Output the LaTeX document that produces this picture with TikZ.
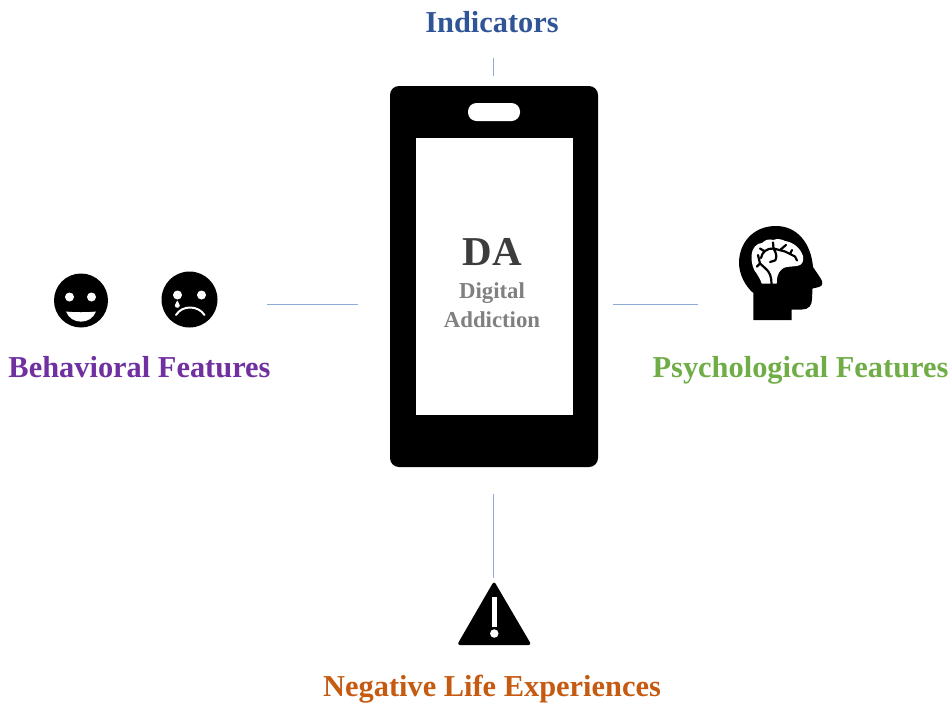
\documentclass[tikz,border=0pt]{standalone}
\usepackage{fontspec}
\setmainfont{Liberation Serif}
\definecolor{linkblue}{HTML}{8EAADB}
\definecolor{indigoblue}{HTML}{2F5597}
\definecolor{behavpurple}{HTML}{7030A0}
\definecolor{psychgreen}{HTML}{70AD47}
\definecolor{negorange}{HTML}{C55A11}

\begin{document}
\begin{tikzpicture}[x=1pt,y=-1pt,
    title/.style={font=\fontsize{30.4}{33}\selectfont\bfseries,inner sep=0pt,anchor=base},
    inphone/.style={font=\fontsize{22.8}{26}\selectfont\bfseries,text=black!50,inner sep=0pt,anchor=base},
    link/.style={draw=linkblue,line width=1.6pt},
    blackface/.style={circle,fill=black,inner sep=0pt,minimum size=#1},
    whitedot/.style={circle,fill=white,inner sep=0pt,minimum size=#1}]
  \useasboundingbox (0,0) rectangle (952,702);

  % phone
  \node[fill=black,rounded corners=9pt,minimum width=208pt,minimum height=381pt,inner sep=0pt] (phone) at (494,276.5) {};
  \node[fill=white,minimum width=157pt,minimum height=277pt,inner sep=0pt] (screen) at (494.5,276.5) {};
  \node[fill=white,rounded corners=8.5pt,minimum width=52pt,minimum height=18pt,inner sep=0pt] (speaker) at (494,112) {};
  \node[font=\fontsize{41}{44}\selectfont\bfseries,text=black!76,inner sep=0pt,anchor=base] (da) at (492,265.7) {DA};
  \node[inphone] (digital) at (492,298.3) {Digital};
  \node[inphone] (addiction) at (492,327.7) {Addiction};

  % labels
  \node[title,text=indigoblue] (indicators) at (492,32) {Indicators};
  \node[title,text=behavpurple] (behavioral) at (139.5,377.5) {Behavioral Features};
  \node[title,text=psychgreen] (psychological) at (800.5,377.5) {Psychological Features};
  \node[title,text=negorange] (negative) at (492,696) {Negative Life Experiences};

  % links
  \coordinate (topa) at (493.5,58);
  \coordinate (topb) at (493.5,76);
  \coordinate (lefta) at (267,304.5);
  \coordinate (leftb) at (358,304.5);
  \coordinate (righta) at (613,304.5);
  \coordinate (rightb) at (698,304.5);
  \coordinate (bota) at (493.5,494);
  \coordinate (botb) at (493.5,578);
  \draw[link] (topa) -- (topb);
  \draw[link] (lefta) -- (leftb);
  \draw[link] (righta) -- (rightb);
  \draw[link] (bota) -- (botb);

  % happy face
  \node[blackface=54pt] (happy) at (81,300.5) {};
  \node[whitedot=9pt] (happyl) at (69.5,297) {};
  \node[whitedot=9pt] (happyr) at (91.5,297) {};
  \fill[white] (66,311.5) .. controls (71,325) and (91,325) .. (96,311.5) .. controls (88,312.5) and (74,312.5) .. (66,311.5);

  % sad face
  \node[blackface=56pt] (sad) at (189.5,299.5) {};
  \node[whitedot=9pt] (sadl) at (177.5,295) {};
  \node[whitedot=9pt] (sadr) at (201.5,295) {};
  \fill[white] (177.3,300.5) .. controls (178,302.5) and (179.8,304) .. (179.8,305.5)
    .. controls (179.8,308.5) and (174.8,308.5) .. (174.8,305.5)
    .. controls (174.8,304) and (176.6,302.5) .. (177.3,300.5);
  \draw[white,line width=2pt,line cap=round] (176,315) .. controls (182,305) and (198,305) .. (204.5,315);

  % head
  \fill[black] (753.3,320) -- (791.7,320) -- (791.7,309.5) -- (802,309.5)
    .. controls (809,309.5) and (812,305) .. (812,299) -- (812.5,288.5) -- (819,287)
    .. controls (823,286) and (823,282) .. (821,279) -- (813,267)
    .. controls (811,243) and (797,226) .. (776,226)
    .. controls (753,226) and (739,243) .. (739,263)
    .. controls (739,274) and (745,286) .. (753.3,293) -- cycle;
  \fill[white] (761.7,283.5) .. controls (760,279) and (759,277) .. (757,274)
    .. controls (753,270) and (751,262) .. (751.5,255)
    .. controls (752,248) and (757,243) .. (762,243)
    .. controls (766,239) and (770,239) .. (773,240)
    .. controls (777,238.5) and (782,239) .. (785,241)
    .. controls (792,242) and (800,247) .. (803,256)
    .. controls (804,262) and (802,265) .. (797,266)
    .. controls (790,267) and (784,266) .. (781,270)
    .. controls (778,273) and (776.7,277) .. (776.7,283.5) -- cycle;
  \draw[black,line width=2.2pt,line cap=round,line join=round]
    (771.5,284) .. controls (771.5,277) and (770,272) .. (765,268) -- (760,263.5)
    (760,263.5) -- (758,255) (757,266.5) -- (760,263.5)
    (761,258) .. controls (762,252) and (767,248) .. (773.5,248.5)
    (760,248.5) -- (764,251)
    (773,242.5) -- (773.5,248.5) -- (785,251.5) -- (795,256.5) -- (797,260.5)
    (786,245) -- (780,250) (790,254) -- (792,250)
    (773.5,248.5) .. controls (777,254) and (777,258) .. (775,260.5) -- (770,262);

  % warning sign
  \fill[black,rounded corners=3pt] (494,581) -- (531.5,645) -- (457,645) -- cycle;
  \fill[white] (491.7,597) rectangle (497.3,626.5);
  \node[whitedot=8.5pt] (warndot) at (494.3,633.5) {};
\end{tikzpicture}
\end{document}
